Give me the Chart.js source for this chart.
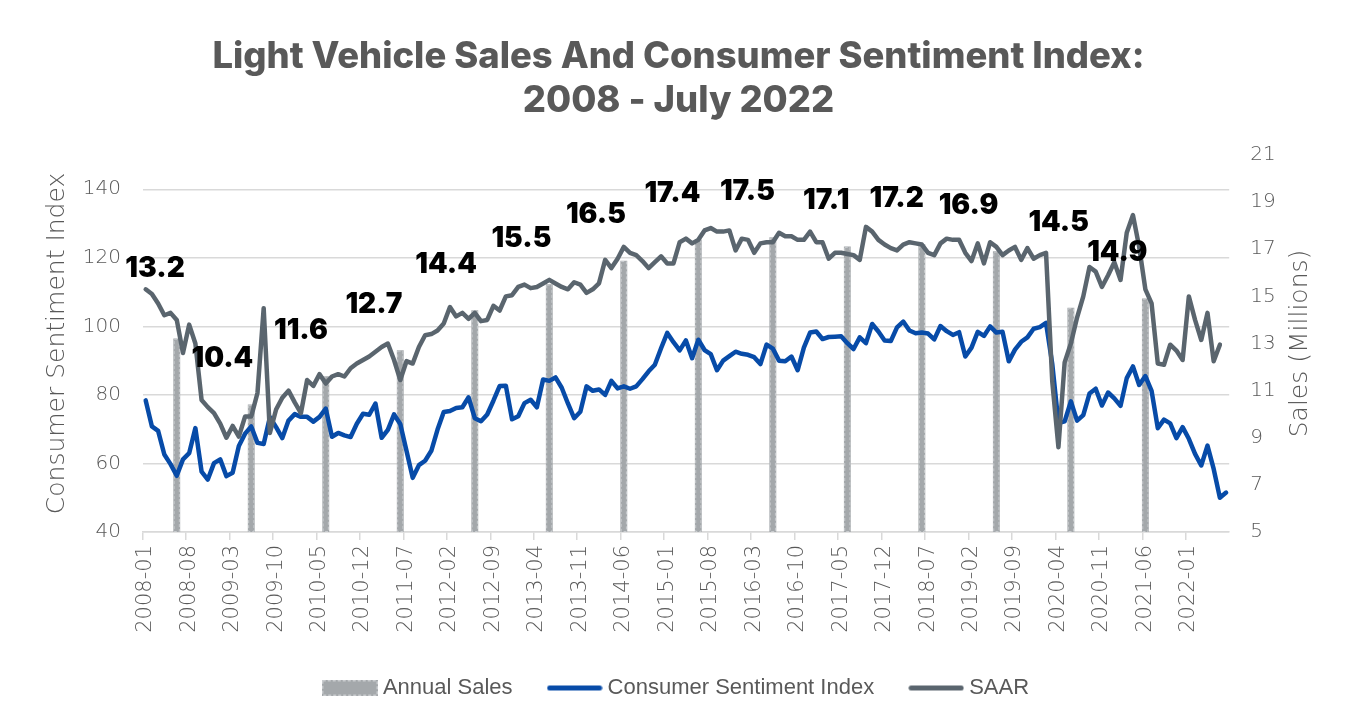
<!DOCTYPE html>
<html>
<head>
<meta charset="utf-8">
<title>Light Vehicle Sales And Consumer Sentiment Index</title>
<script src="https://cdn.jsdelivr.net/npm/chart.js@4.4.1/dist/chart.umd.min.js"></script>
<style>
  html, body { margin: 0; padding: 0; background: #fff; }
  #wrap { width: 1351px; height: 722px; }
  canvas { display: block; }
</style>
</head>
<body>
<div id="wrap"><canvas id="chart" width="1351" height="722"></canvas></div>
<script>
// --- data ---------------------------------------------------------------

// monthly categories 2008-01 ... 2022-07
const firstYear = 2008;
const lastYear = 2022;
const lastMonth = 7;
const months = [];
for (let y = firstYear; y <= lastYear; y++) {
    for (let m = 1; m <= 12; m++) {
        if (y === lastYear && m > lastMonth) break;
        months.push(`${y}-${String(m).padStart(2, '0')}`);
    }
}

// Consumer Sentiment Index, one row per year
const sentiment = [
    78.4, 70.8, 69.5, 62.6, 59.8, 56.4, 61.2, 63.0, 70.3, 57.6, 55.3, 60.1,
    61.2, 56.3, 57.3, 65.1, 68.7, 70.8, 66.0, 65.7, 73.5, 70.6, 67.4, 72.5,
    74.4, 73.6, 73.6, 72.2, 73.6, 76.0, 67.8, 68.9, 68.2, 67.7, 71.6, 74.5,
    74.2, 77.5, 67.5, 69.8, 74.3, 71.5, 63.7, 55.8, 59.5, 60.8, 63.7, 69.9,
    75.0, 75.3, 76.2, 76.4, 79.3, 73.2, 72.3, 74.3, 78.3, 82.6, 82.7, 72.9,
    73.8, 77.6, 78.6, 76.4, 84.5, 84.1, 85.1, 82.1, 77.5, 73.2, 75.1, 82.5,
    81.2, 81.6, 80.0, 84.1, 81.9, 82.5, 81.8, 82.5, 84.6, 86.9, 88.8, 93.6,
    98.1, 95.4, 93.0, 95.9, 90.7, 96.1, 93.1, 91.9, 87.2, 90.0, 91.3, 92.6,
    92.0, 91.7, 91.0, 89.0, 94.7, 93.5, 90.0, 89.8, 91.2, 87.2, 93.8, 98.2,
    98.5, 96.3, 96.9, 97.0, 97.1, 95.1, 93.4, 96.8, 95.1, 100.7, 98.5, 95.9,
    95.7, 99.7, 101.4, 98.8, 98.0, 98.2, 97.9, 96.2, 100.1, 98.6, 97.5, 98.3,
    91.2, 93.8, 98.4, 97.2, 100.0, 98.2, 98.4, 89.8, 93.2, 95.5, 96.8, 99.3,
    99.8, 101.0, 89.1, 71.8, 72.3, 78.1, 72.5, 74.1, 80.4, 81.8, 76.9, 80.7,
    79.0, 76.8, 84.9, 88.3, 82.9, 85.5, 81.2, 70.3, 72.8, 71.7, 67.4, 70.6,
    67.2, 62.8, 59.4, 65.2, 58.4, 50.0, 51.5
];

// SAAR in millions (ends 2022-06)
const saar = [
    15.3, 15.1, 14.7, 14.2, 14.3, 14.0, 12.6, 13.8, 13.0, 10.6, 10.3, 10.05,
    9.6, 9.0, 9.5, 9.05, 9.9, 9.9, 10.9, 14.5, 9.2, 10.2, 10.7, 11.0,
    10.5, 10.05, 11.45, 11.2, 11.7, 11.3, 11.6, 11.7, 11.6, 11.95, 12.15, 12.3,
    12.45, 12.65, 12.85, 13.0, 12.3, 11.45, 12.25, 12.15, 12.85, 13.35, 13.4, 13.55,
    13.85, 14.55, 14.15, 14.3, 14.05, 14.3, 13.95, 14.0, 14.6, 14.4, 15.0, 15.05,
    15.4, 15.5, 15.35, 15.4, 15.55, 15.7, 15.55, 15.4, 15.3, 15.6, 15.5, 15.15,
    15.3, 15.55, 16.55, 16.2, 16.6, 17.1, 16.85, 16.75, 16.5, 16.2, 16.45, 16.7,
    16.4, 16.4, 17.3, 17.45, 17.25, 17.4, 17.8, 17.9, 17.75, 17.75, 17.8, 16.95,
    17.45, 17.4, 16.85, 17.25, 17.3, 17.3, 17.7, 17.55, 17.55, 17.4, 17.4, 17.75,
    17.3, 17.3, 16.6, 16.85, 16.85, 16.8, 16.75, 16.55, 17.95, 17.75, 17.4, 17.2,
    17.05, 16.95, 17.2, 17.3, 17.25, 17.2, 16.85, 16.75, 17.25, 17.45, 17.4, 17.4,
    16.85, 16.5, 17.25, 16.4, 17.3, 17.1, 16.75, 16.95, 17.1, 16.55, 17.05, 16.6,
    16.75, 16.85, 11.4, 8.6, 12.2, 13.0, 14.1, 15.0, 16.25, 16.05, 15.4, 15.9,
    16.45, 15.7, 17.7, 18.45, 17.1, 15.3, 14.7, 12.15, 12.1, 12.95, 12.7, 12.3,
    15.0, 14.0, 13.15, 14.3, 12.25, 12.95
];

// annual sales (millions), drawn at mid-year
const annualYears = [2008, 2009, 2010, 2011, 2012, 2013, 2014, 2015, 2016, 2017, 2018, 2019, 2020, 2021];
const annualSales = [13.2, 10.4, 11.6, 12.7, 14.4, 15.5, 16.5, 17.4, 17.5, 17.1, 17.2, 16.9, 14.5, 14.9];
const annualMonth = '06';

// axis ticks
const leftTicks = [40, 60, 80, 100, 120, 140];
const rightTicks = [5, 7, 9, 11, 13, 15, 17, 19, 21];
const xLabelStep = 7;

const annualSeries = months.map(label => {
    const k = annualYears.findIndex(y => label === `${y}-${annualMonth}`);
    return k >= 0 ? annualSales[k] : null;
});

// --- styles -------------------------------------------------------------
const GREY_TEXT = '#595959';
const GRID = '#d9d9d9';
const BLUE = '#074ba8';
const SLATE = '#5a656e';
const BAR_FILL = '#a4a8ab';
const BAR_DASH = '#c9cccf';
const AXIS_FONT = '"DejaVu Sans", Roboto, sans-serif';

Chart.defaults.font.family = AXIS_FONT;
Chart.defaults.color = GREY_TEXT;

function makeSwatch(w, h, draw) {
    const c = document.createElement('canvas');
    c.width = w;
    c.height = h;
    draw(c.getContext('2d'), w, h);
    return c;
}

function lineSwatch(color) {
    return makeSwatch(56, 7, (g, w, h) => {
        g.strokeStyle = color;
        g.lineWidth = 5;
        g.lineCap = 'round';
        g.beginPath();
        g.moveTo(3, h / 2);
        g.lineTo(w - 3, h / 2);
        g.stroke();
    });
}

// legend swatches by dataset index
const swatches = [
    makeSwatch(56, 16, (g, w, h) => {
        g.fillStyle = BAR_FILL;
        g.fillRect(0, 0, w, h);
        g.setLineDash([3, 2]);
        g.strokeStyle = BAR_DASH;
        g.lineWidth = 1.5;
        g.strokeRect(0.75, 0.75, w - 1.5, h - 1.5);
    }),
    lineSwatch(BLUE),
    lineSwatch(SLATE)
];

// dashed outline on the annual bars
const barOutline = {
    id: 'barOutline',
    afterDatasetDraw(chart, args) {
        if (args.index !== 0) return;
        const ctx = chart.ctx;
        ctx.save();
        ctx.setLineDash([3, 2]);
        ctx.strokeStyle = BAR_DASH;
        ctx.lineWidth = 1;
        args.meta.data.forEach((bar, i) => {
            if (annualSeries[i] == null) return;
            const { x, y, base, width } = bar.getProps(['x', 'y', 'base', 'width'], true);
            ctx.strokeRect(x - width / 2 + 0.5, y + 0.5, width - 1, base - y - 1);
        });
        ctx.restore();
    }
};

// value labels above the annual bars
const barLabels = {
    id: 'barLabels',
    afterDatasetsDraw(chart, args, opts) {
        const meta = chart.getDatasetMeta(0);
        const ctx = chart.ctx;
        ctx.save();
        ctx.font = opts.font;
        ctx.fillStyle = opts.color;
        ctx.textAlign = 'right';
        ctx.textBaseline = 'middle';
        let k = 0;
        meta.data.forEach((bar, i) => {
            const v = annualSeries[i];
            if (v == null) return;
            const nudge = opts.nudge[k] || [0, 0];
            ctx.fillText(v.toFixed(1), bar.x + opts.dx + nudge[0], bar.y + opts.dy + nudge[1]);
            k++;
        });
        ctx.restore();
    }
};

// right axis title reads bottom-to-top like the left one
const rightTitle = {
    id: 'rightTitle',
    afterDraw(chart, args, opts) {
        const s = chart.scales.y1;
        const ctx = chart.ctx;
        ctx.save();
        ctx.translate(s.right - opts.offset, (s.top + s.bottom) / 2);
        ctx.rotate(-Math.PI / 2);
        ctx.font = opts.font;
        ctx.fillStyle = GREY_TEXT;
        ctx.textAlign = 'center';
        ctx.textBaseline = 'middle';
        ctx.fillText(opts.text, 0, 0);
        ctx.restore();
    }
};

const ctx = document.getElementById('chart').getContext('2d');
new Chart(ctx, {
    type: 'bar',
    data: {
        labels: months,
        datasets: [
            {
                type: 'bar',
                label: 'Annual Sales',
                data: annualSeries,
                yAxisID: 'y1',
                base: rightTicks[0],
                backgroundColor: BAR_FILL,
                borderWidth: 0,
                barPercentage: 1,
                categoryPercentage: 1,
                order: 3
            },
            {
                type: 'line',
                label: 'Consumer Sentiment Index',
                data: sentiment,
                yAxisID: 'y',
                borderColor: BLUE,
                backgroundColor: BLUE,
                borderWidth: 4.5,
                borderJoinStyle: 'round',
                borderCapStyle: 'round',
                pointRadius: 0,
                tension: 0,
                order: 2
            },
            {
                type: 'line',
                label: 'SAAR',
                data: saar,
                yAxisID: 'y1',
                borderColor: SLATE,
                backgroundColor: SLATE,
                borderWidth: 4.5,
                borderJoinStyle: 'round',
                borderCapStyle: 'round',
                pointRadius: 0,
                tension: 0,
                order: 1
            }
        ]
    },
    options: {
        responsive: false,
        devicePixelRatio: 1,
        animation: false,
        layout: { padding: { left: 6, right: 0, top: 0, bottom: 13 } },
        plugins: {
            tooltip: { enabled: false },
            title: {
                display: true,
                text: ['Light Vehicle Sales And Consumer Sentiment Index:', '2008 - July 2022'],
                color: GREY_TEXT,
                font: { family: 'Inter, "Open Sans", sans-serif', size: 36.4, weight: '800', lineHeight: 1.209 },
                padding: { top: 35, bottom: 32 }
            },
            legend: {
                position: 'bottom',
                labels: {
                    usePointStyle: true,
                    pointStyleWidth: 44,
                    padding: 40,
                    color: GREY_TEXT,
                    font: { family: '"Liberation Sans", Arial, sans-serif', size: 22 },
                    sort: (a, b) => a.datasetIndex - b.datasetIndex,
                    generateLabels(chart) {
                        const items = Chart.defaults.plugins.legend.labels.generateLabels(chart);
                        items.forEach(item => { item.pointStyle = swatches[item.datasetIndex]; });
                        return items;
                    }
                }
            },
            barLabels: {
                font: '900 28px Inter, "Open Sans", sans-serif',
                color: '#000000',
                dx: 2,
                dy: -46,
                nudge: { 0: [6, -24], 12: [16, -40] }
            },
            rightTitle: {
                text: 'Sales (Millions)',
                font: '200 25px ' + AXIS_FONT,
                offset: 51
            }
        },
        scales: {
            x: {
                offset: true,
                grid: {
                    offset: true,
                    drawOnChartArea: false,
                    drawTicks: true,
                    tickLength: 8,
                    lineWidth: 1.5,
                    color: c => (c.index % xLabelStep === 0 ? GRID : 'rgba(0,0,0,0)')
                },
                border: { display: true, color: GRID, width: 1.5 },
                ticks: {
                    autoSkip: false,
                    minRotation: 90,
                    maxRotation: 90,
                    padding: 5,
                    color: GREY_TEXT,
                    font: { size: 21, weight: '200' },
                    callback(value, index) {
                        return index % xLabelStep === 0 ? this.getLabelForValue(value) : '';
                    }
                },
                afterFit(scale) { scale.height = 105; }
            },
            y: {
                position: 'left',
                min: 40,
                max: 150,
                afterBuildTicks(scale) { scale.ticks = leftTicks.map(v => ({ value: v })); },
                afterFit(scale) { scale.width = 136.6; },
                grid: { color: GRID, lineWidth: 1.5, drawTicks: false },
                border: { display: false },
                ticks: { padding: 21.6, color: GREY_TEXT, font: { size: 20, weight: '200' } },
                title: {
                    display: true,
                    text: 'Consumer Sentiment Index',
                    color: GREY_TEXT,
                    font: { size: 25, weight: '200', lineHeight: 1.2 },
                    padding: { top: 36, bottom: 0 }
                }
            },
            y1: {
                position: 'right',
                min: 5,
                max: 21,
                afterBuildTicks(scale) { scale.ticks = rightTicks.map(v => ({ value: v })); },
                afterFit(scale) { scale.width = 121.8; },
                grid: { display: false, drawTicks: false },
                border: { display: false },
                ticks: { padding: 21, color: GREY_TEXT, font: { size: 20, weight: '200' } }
            }
        }
    },
    plugins: [barOutline, barLabels, rightTitle]
});
</script>
</body>
</html>
